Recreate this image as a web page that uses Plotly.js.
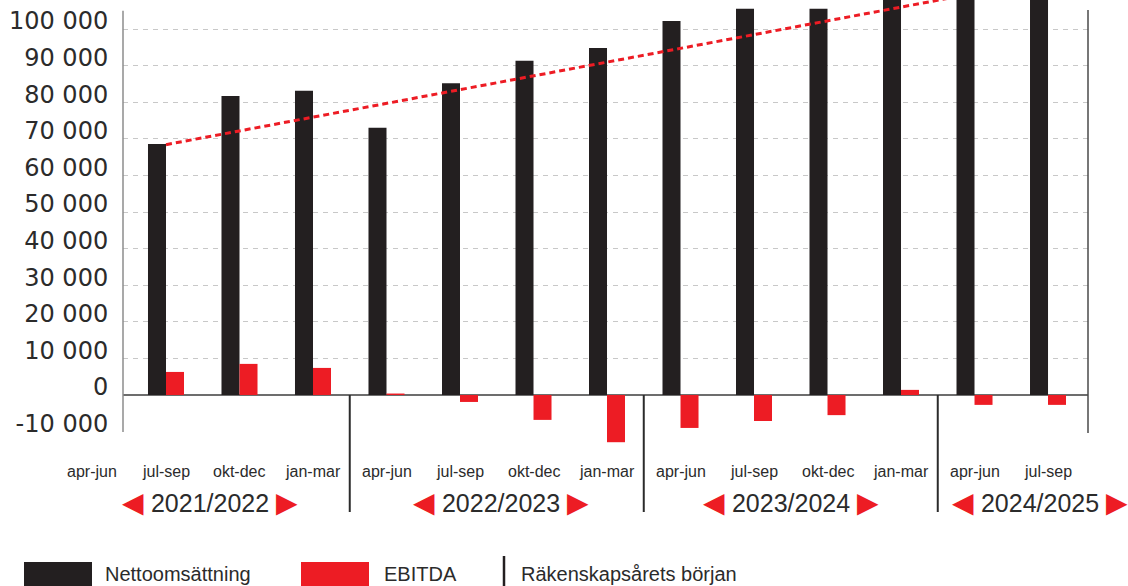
<!DOCTYPE html>
<html><head><meta charset="utf-8">
<script src="https://cdn.plot.ly/plotly-3.0.1.min.js"></script>
<style>html,body{margin:0;padding:0;background:#fff;} #chart{width:1128px;height:586px;}</style>
</head><body><div id="chart"></div>
<script>
// ---- data ----
const quarters = ['apr-jun','jul-sep','okt-dec','jan-mar','apr-jun','jul-sep','okt-dec','jan-mar','apr-jun','jul-sep','okt-dec','jan-mar','apr-jun','jul-sep'];
const fiscalYears = ['2021/2022','2022/2023','2023/2024','2024/2025'];
const quartersPerYear = [4, 4, 4, 2];
const nettoomsattning = [null, 68600, 81700, 83100, 73000, 85200, 91300, 94800, 102200, 105500, 105500, 109000, 110000, 111000];
const ebitda = [null, 6300, 8500, 7400, 400, -1900, -6800, -12900, -9000, -7100, -5500, 1400, -2700, -2700];
const trendQuarterIndex = [1, 13];
const trendValues = [68400, 113500];
const yTickValues = [-10000, 0, 10000, 20000, 30000, 40000, 50000, 60000, 70000, 80000, 90000, 100000];
const yTickLabels = ['-10 000', '0', '10 000', '20 000', '30 000', '40 000', '50 000', '60 000', '70 000', '80 000', '90 000', '100 000'];
const gridValues = [10000, 20000, 30000, 40000, 50000, 60000, 70000, 80000, 90000, 100000];
const legendLabels = ['Nettoomsättning', 'EBITDA', 'Räkenskapsårets början'];

// ---- styling / geometry ----
const BLACK = '#231f20', RED = '#ed1c24', TXT = '#2b2b2b';
const L = 123, R = 1088, T = 0, B = 450;
const px = X => (X - L) / (R - L);
const py = Y => (B - Y) / (B - T);
const PXPER10K = 36.6, ZEROY = 395;
const yRange = [-(B - ZEROY) / PXPER10K * 10000, (ZEROY - T) / PXPER10K * 10000];
const xRange = [0.415, 13.544];
const xp = i => (i - xRange[0]) / (xRange[1] - xRange[0]);

const idx = quarters.map((q, i) => i);

const traces = [
  {type: 'bar', x: idx, y: nettoomsattning, name: legendLabels[0], marker: {color: BLACK}, showlegend: false, hoverinfo: 'skip'},
  {type: 'bar', x: idx, y: ebitda, name: legendLabels[1], marker: {color: RED}, showlegend: false, hoverinfo: 'skip'},
  {type: 'scatter', mode: 'lines', x: trendQuarterIndex, y: trendValues, yaxis: 'y2', line: {color: RED, width: 3, dash: '6px,4px'}, showlegend: false, hoverinfo: 'skip'}
];

const annotations = [];
quarters.forEach((q, i) => {
  annotations.push({xref: 'paper', yref: 'paper', x: xp(i), y: py(471), text: q, showarrow: false,
    xanchor: 'center', yanchor: 'middle', font: {family: 'Liberation Sans, Arial, sans-serif', size: 16, color: TXT}});
});
const yearShift = [7, 4, 0, 29];
let start = 0;
const boundaries = [];
fiscalYears.forEach((yr, k) => {
  const n = quartersPerYear[k];
  const center = start + (n - 1) / 2;
  annotations.push({xref: 'paper', yref: 'paper', x: xp(center), y: py(502), xshift: yearShift[k],
    text: '<span style="color:' + RED + ';font-size:28px">\u25C0</span>\u00a0' + yr + '\u00a0<span style="color:' + RED + ';font-size:28px">\u25B6</span>',
    showarrow: false, xanchor: 'center', yanchor: 'middle',
    font: {family: 'Liberation Sans, Arial, sans-serif', size: 25, color: TXT}});
  if (k > 0) boundaries.push(start - 0.5);
  start += n;
});

const shapes = [
  {type: 'line', xref: 'paper', yref: 'paper', x0: 0, x1: 0, y0: py(10.7), y1: py(432), line: {color: '#8c8c8c', width: 1.5}},
  {type: 'line', xref: 'paper', yref: 'paper', x0: 1, x1: 1, y0: py(10), y1: py(433), line: {color: '#4a4a4a', width: 1.5}}
];
boundaries.forEach(b => {
  shapes.push({type: 'line', xref: 'x', yref: 'paper', x0: b, x1: b, y0: py(395), y1: py(512), line: {color: '#2b2b2b', width: 2}});
});

// legend
shapes.push({type: 'rect', xref: 'paper', yref: 'paper', x0: px(24), x1: px(92), y0: py(562), y1: py(592), fillcolor: BLACK, line: {width: 0}});
shapes.push({type: 'rect', xref: 'paper', yref: 'paper', x0: px(301), x1: px(369), y0: py(562), y1: py(592), fillcolor: RED, line: {width: 0}});
shapes.push({type: 'line', xref: 'paper', yref: 'paper', x0: px(504), x1: px(504), y0: py(556), y1: py(592), line: {color: BLACK, width: 2.5}});
const legendX = [104, 383, 520];
legendLabels.forEach((t, i) => {
  annotations.push({xref: 'paper', yref: 'paper', x: px(legendX[i]), y: py(574), text: t, showarrow: false,
    xanchor: 'left', yanchor: 'middle', borderpad: 0,
    font: {family: 'Liberation Sans, Arial, sans-serif', size: 20, color: TXT}});
});

const layout = {
  width: 1128, height: 586,
  margin: {l: L, r: 1128 - R, t: T, b: 586 - B, pad: 0},
  paper_bgcolor: '#fff', plot_bgcolor: '#fff',
  barmode: 'group', bargap: 0.51, bargroupgap: 0,
  showlegend: false,
  xaxis: {type: 'linear', range: xRange, showgrid: false, zeroline: false, showline: false, showticklabels: false, ticks: '', fixedrange: true},
  yaxis: {range: yRange, tickmode: 'array', tickvals: yTickValues, ticktext: yTickLabels,
    showgrid: false, zeroline: false, showline: false,
    ticks: 'outside', ticklen: 9, tickcolor: 'rgba(0,0,0,0)', ticklabelshift: -8,
    tickfont: {family: 'DejaVu Sans, sans-serif', size: 24, color: TXT}, fixedrange: true},
  yaxis2: {overlaying: 'y', side: 'left', range: yRange, tickmode: 'array', tickvals: gridValues, showticklabels: false,
    showgrid: true, gridcolor: '#c8c8c8', gridwidth: 1, griddash: '5px,5px', zeroline: false, showline: false, ticks: '', fixedrange: true},
  shapes: shapes.concat([
    {type: 'line', xref: 'paper', yref: 'y', x0: 0, x1: 1, y0: 0, y1: 0, layer: 'below', line: {color: '#3c3c3c', width: 1.5}}
  ]),
  annotations: annotations
};

Plotly.newPlot('chart', traces, layout, {displayModeBar: false, staticPlot: true});
</script></body></html>
